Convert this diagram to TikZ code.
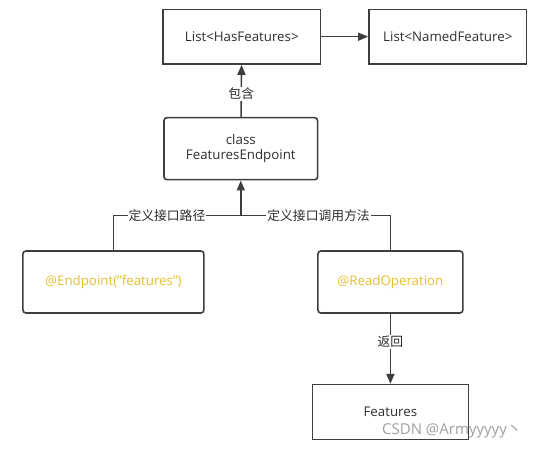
\documentclass[tikz,border=0pt]{standalone}
\usepackage{fontspec}
\setmainfont{Open Sans}
\newfontfamily\cjk{Noto Sans CJK SC}
\usetikzlibrary{shapes.geometric, arrows, arrows.meta}
\definecolor{linegray}{RGB}{62,62,62}
\definecolor{textgray}{RGB}{45,45,45}
\definecolor{annotyellow}{RGB}{229,190,45}
\tikzstyle{typebox} = [rectangle, minimum height=54.7pt, inner sep=0pt, text centered, draw=linegray, line width=1.6pt, text=textgray, font=\fontsize{13.3}{15}\selectfont]
\tikzstyle{classbox} = [rectangle, rounded corners=3pt, minimum height=62pt, inner sep=0pt, align=center, draw=linegray, line width=1.6pt, text=textgray, font=\fontsize{13.3}{15}\selectfont]
\tikzstyle{annotbox} = [classbox, text=annotyellow]
\tikzstyle{edgelabel} = [fill=white, inner sep=1pt, text=textgray, font=\cjk\fontsize{12.8}{14}\selectfont]
\tikzstyle{link} = [line width=1.6pt, draw=linegray]
\tikzstyle{arrow} = [link, -{Triangle[length=10pt,width=8pt]}]

\begin{document}
\begin{tikzpicture}[x=1pt, y=1pt, node distance=130pt]
    \useasboundingbox (0,0) rectangle (536,-449);

    \node (hasfeatures) [typebox, minimum width=157.7pt] at (241.8,-36.7) {List<HasFeatures>};
    \node (namedfeature) [typebox, minimum width=157.7pt, right of=hasfeatures, xshift=76pt] {List<NamedFeature>};
    \node (featuresendpoint) [classbox, minimum width=153.7pt, below of=hasfeatures, yshift=18pt, xshift=-1pt] {class\\FeaturesEndpoint};
    \node (endpointann) [annotbox, minimum width=181pt, below of=featuresendpoint, xshift=-127.4pt, yshift=-3.3pt] {@Endpoint("features")};
    \node (readop) [annotbox, minimum width=145pt, right of=endpointann, xshift=147pt] {@ReadOperation};
    \node (features) [typebox, minimum width=156pt, below of=readop] {Features};

    \coordinate [below of=featuresendpoint, node distance=67pt] (junction);

    \draw [arrow] (hasfeatures) -- (namedfeature);
    \draw [arrow] (featuresendpoint) -- node[edgelabel, pos=0.44] {包含} (hasfeatures);
    \draw [link] (endpointann.north) |- node[edgelabel, pos=0.71] {定义接口路径} (junction);
    \draw [link] (readop.north) |- node[edgelabel, pos=0.74] {定义接口调用方法} (junction);
    \draw [arrow] (junction) -- (featuresendpoint);
    \draw [arrow] (readop) -- node[edgelabel, pos=0.4] {返回} (features);

    \node (watermark) [text=gray!75, font=\fontsize{15}{17}\selectfont] at (452,-431) {CSDN @Armyyyyy{\cjk 丶}};

\end{tikzpicture}
\end{document}
